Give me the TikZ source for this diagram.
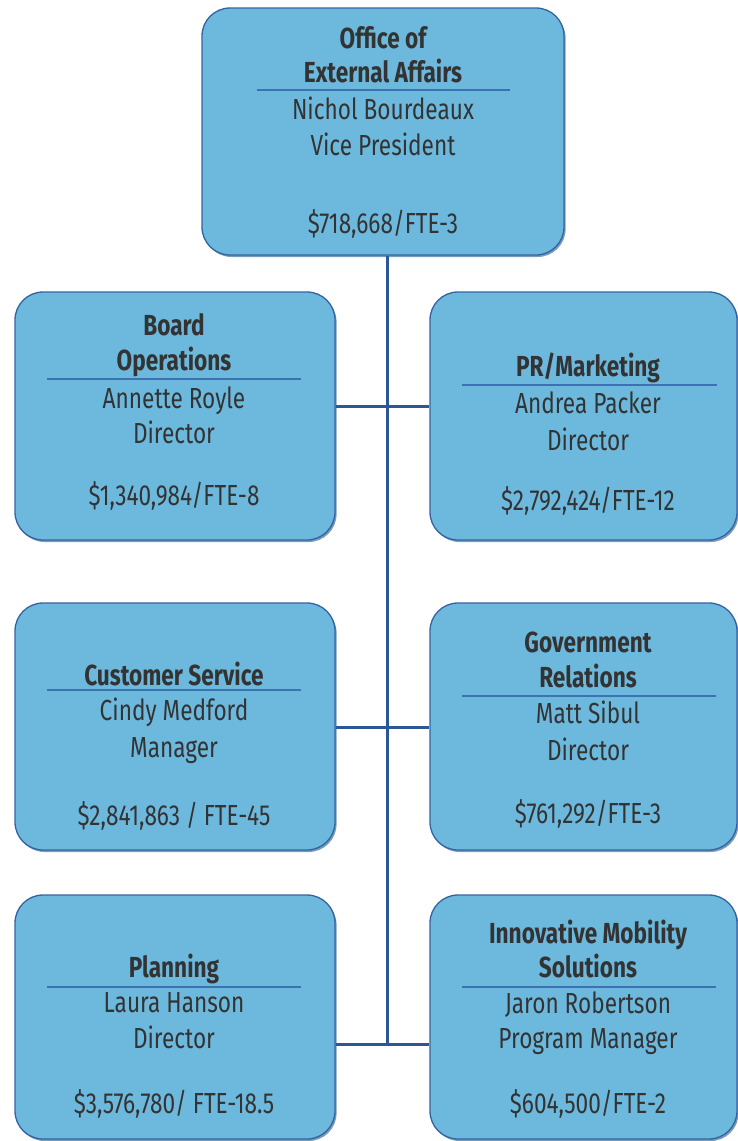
\documentclass[tikz,border=0pt]{standalone}
\usepackage{fontspec}
\setmainfont{Fira Sans}[FakeStretch=0.78]
\usetikzlibrary{shadows}
\definecolor{boxfill}{HTML}{6DB9DD}
\definecolor{boxline}{HTML}{3463A3}
\definecolor{conn}{HTML}{2B5797}
\definecolor{sep}{HTML}{3A72B2}
\definecolor{txt}{HTML}{333333}
\definecolor{shad}{HTML}{3F6F9F}
\begin{document}
\begin{tikzpicture}[x=1pt,y=-1pt,
  box/.style={draw=boxline, line width=1.3pt, fill=boxfill, rounded corners=28pt,
    inner sep=0pt, drop shadow={shadow xshift=1.6pt, shadow yshift=-2pt, fill=shad, opacity=0.7}},
  ttl/.style={anchor=base, inner sep=0pt, text=txt, font=\fontsize{29}{34}\selectfont\bfseries},
  lbl/.style={anchor=base, inner sep=0pt, text=txt, font=\fontsize{29}{34}\selectfont},
  sepline/.style={draw=sep, line width=1.5pt},
  link/.style={draw=conn, line width=3pt}]
\useasboundingbox (0,0) rectangle (738,1141);
% boxes
\node[box, minimum width=362pt, minimum height=247pt] (top) at (383,131.5) {};
\node[box, minimum width=320pt, minimum height=248pt] (board) at (175,416) {};
\node[box, minimum width=307pt, minimum height=248pt] (pr) at (583.5,416) {};
\node[box, minimum width=320pt, minimum height=247pt] (cust) at (175,726.5) {};
\node[box, minimum width=307pt, minimum height=247pt] (gov) at (583.5,726.5) {};
\node[box, minimum width=320pt, minimum height=244pt] (plan) at (175,1017) {};
\node[box, minimum width=307pt, minimum height=244pt] (ims) at (583.5,1017) {};
% junctions
\coordinate (j1) at (387,406);
\coordinate (j2) at (387,727);
\coordinate (j3) at (387,1044);
% connectors
\draw[link] (top.south -| j3) -- (j3);
\draw[link] (board.east |- j1) -- (pr.west |- j1);
\draw[link] (cust.east |- j2) -- (gov.west |- j2);
\draw[link] (plan.east |- j3) -- (ims.west |- j3);
% top box
\node[ttl] (t1) at (383,48) {Office of};
\node[ttl] (t2) at (383,82) {External Affairs};
\draw[sepline] (257,90) -- (510,90);
\node[lbl] (t3) at (383,119) {Nichol Bourdeaux};
\node[lbl] (t4) at (383,155) {Vice President};
\node[lbl] (t5) at (383,233) {\$718,668/FTE-3};
% board
\node[ttl] (b1) at (174,335) {Board};
\node[ttl] (b2) at (174,370) {Operations};
\draw[sepline] (47,379) -- (301,379);
\node[lbl] (b3) at (174,408) {Annette Royle};
\node[lbl] (b4) at (174,443) {Director};
\node[lbl] (b5) at (174,505) {\$1,340,984/FTE-8};
% pr
\node[ttl] (p1) at (588,376) {PR/Marketing};
\draw[sepline] (462,385) -- (717,385);
\node[lbl] (p2) at (588,413) {Andrea Packer};
\node[lbl] (p3) at (588,450) {Director};
\node[lbl] (p4) at (588,510) {\$2,792,424/FTE-12};
% customer
\node[ttl] (c1) at (174,685) {Customer Service};
\draw[sepline] (47,690) -- (301,690);
\node[lbl] (c2) at (174,720) {Cindy Medford};
\node[lbl] (c3) at (174,757) {Manager};
\node[lbl] (c4) at (174,825) {\$2,841,863 / FTE-45};
% gov
\node[ttl] (g1) at (588,652) {Government};
\node[ttl] (g2) at (588,687) {Relations};
\draw[sepline] (462,696) -- (716,696);
\node[lbl] (g3) at (588,723) {Matt Sibul};
\node[lbl] (g4) at (588,760) {Director};
\node[lbl] (g5) at (588,823) {\$761,292/FTE-3};
% planning
\node[ttl] (l1) at (174,977) {Planning};
\draw[sepline] (47,987) -- (301,987);
\node[lbl] (l2) at (174,1012) {Laura Hanson};
\node[lbl] (l3) at (174,1048) {Director};
\node[lbl] (l4) at (174,1113) {\$3,576,780/ FTE-18.5};
% ims
\node[ttl] (m1) at (588,943) {Innovative Mobility};
\node[ttl] (m2) at (588,977) {Solutions};
\draw[sepline] (462,987) -- (716,987);
\node[lbl] (m3) at (588,1013) {Jaron Robertson};
\node[lbl] (m4) at (588,1048) {Program Manager};
\node[lbl] (m5) at (588,1113) {\$604,500/FTE-2};
\end{tikzpicture}
\end{document}
